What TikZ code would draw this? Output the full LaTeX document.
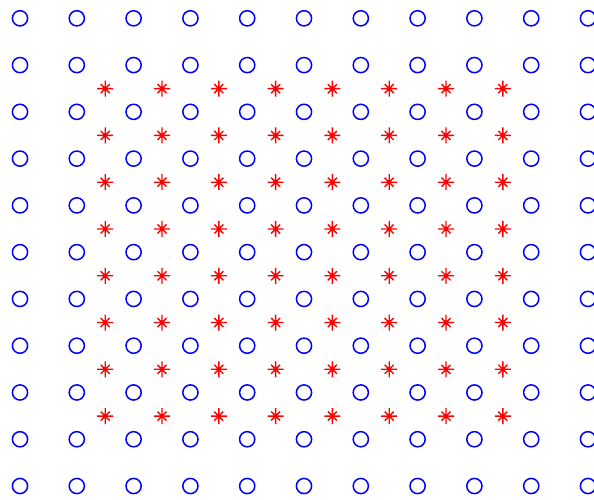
\documentclass[tikz,border=0pt]{standalone}
\begin{document}
\begin{tikzpicture}[x=1pt,y=-1pt,
  ring/.style={draw=blue, line width=1.5pt},
  astx/.style={draw=red, line width=1.4pt}]
\useasboundingbox (0,0) rectangle (594,499);
\clip (0,0) rectangle (594,499);
\foreach \i in {0,...,10}
  \foreach \j in {0,...,10}
    \draw[ring] ({20+56.8*\i},{18.3+46.77*\j}) circle (7.6);
\foreach \i in {1,...,8}
  \foreach \j in {1,...,8} {
    \begin{scope}[shift={({48.4+56.8*\i},{41.9+46.77*\j})}]
      \draw[astx] (-8,0) -- (8,0) (0,-8) -- (0,8) (-4.5,-4.5) -- (4.5,4.5) (-4.5,4.5) -- (4.5,-4.5);
      \fill[red] (0,0) circle (2.2);
    \end{scope}
  }
\end{tikzpicture}
\end{document}
